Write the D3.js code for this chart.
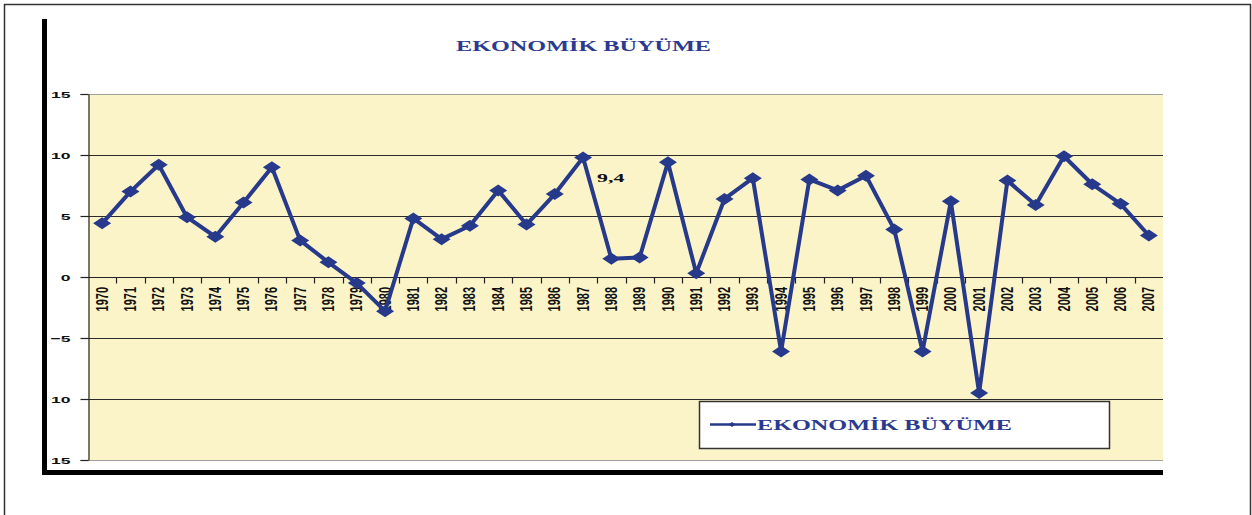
<html><head>
<meta charset="UTF-8">
<title>Ekonomik Büyüme</title>
<script src="https://cdn.jsdelivr.net/npm/d3@7"></script>
<style>
  body { margin: 0; background: #fff; }
  svg { display: block; }
  .ylab text { font: bold 9.5px "Liberation Sans", Arial, sans-serif; fill: #111; }
  .xlab { font: bold 11px "Liberation Sans Narrow", "Liberation Sans", Arial, sans-serif; fill: #111; }
  .serif { font-family: "Liberation Serif", "Times New Roman", serif; font-weight: bold; }
</style>
</head>
<body>
<div id="chart"></div>
<script>
// data (annual growth, %)
const years = ['1970','1971','1972','1973','1974','1975','1976','1977','1978','1979',
  '1980','1981','1982','1983','1984','1985','1986','1987','1988','1989',
  '1990','1991','1992','1993','1994','1995','1996','1997','1998','1999',
  '2000','2001','2002','2003','2004','2005','2006','2007'];
const growth = [4.4, 7.0, 9.2, 4.9, 3.3, 6.1, 9.0, 3.0, 1.2, -0.5,
  -2.8, 4.8, 3.1, 4.2, 7.1, 4.3, 6.8, 9.8, 1.5, 1.6,
  9.4, 0.3, 6.4, 8.1, -6.1, 8.0, 7.1, 8.3, 3.9, -6.1,
  6.2, -9.5, 7.9, 5.9, 9.9, 7.6, 6.0, 3.4];
const yTicks = [15, 10, 5, 0, -5, -10, -15];
const gridTicks = [10, 5, -5, -10];
const annoYear = '1987';
const annoText = '9,4';
const title = 'EKONOMİK BÜYÜME';
const seriesName = 'EKONOMİK BÜYÜME';

const W = 1252, H = 515;
const navy = '#26398b';
const plot = {left: 88, right: 1163, top: 94, bottom: 460};

const svg = d3.select('#chart').append('svg')
    .attr('width', W).attr('height', H);

// outer frame
svg.append('rect')
    .attr('x', 4.5).attr('y', 4.5).attr('width', 1246).attr('height', 530)
    .attr('fill', 'none').attr('stroke', '#333').attr('stroke-width', 1.5);

const x = d3.scaleBand().domain(years).range([plot.left, plot.right]);
const y = d3.scaleLinear().domain([-15, 15]).range([plot.bottom, plot.top]);
const cx = d => x(d) + x.bandwidth() / 2;

// plot background
svg.append('rect')
    .attr('x', plot.left).attr('y', plot.top)
    .attr('width', plot.right - plot.left).attr('height', plot.bottom - plot.top)
    .attr('fill', '#fbf4c8');

// top / bottom borders of plot area
svg.selectAll('.edge').data([15, -15]).enter().append('line')
    .attr('x1', 80).attr('x2', plot.right)
    .attr('y1', d => Math.round(y(d)) + 0.5).attr('y2', d => Math.round(y(d)) + 0.5)
    .attr('stroke', '#a0a0a0').attr('stroke-width', 1.2);

// grid lines
svg.selectAll('.grid').data(gridTicks).enter().append('line')
    .attr('x1', plot.left).attr('x2', plot.right)
    .attr('y1', d => Math.round(y(d)) + 0.5).attr('y2', d => Math.round(y(d)) + 0.5)
    .attr('stroke', '#2b2b2b').attr('stroke-width', 1.1);

// y axis; labels are stretched sideways like the source
const labShift = -18, labScale = 1.85;
const yAxis = svg.append('g')
    .attr('class', 'ylab')
    .attr('transform', `translate(${plot.left + 0.5},0)`)
    .call(d3.axisLeft(y).tickValues(yTicks).tickSize(8).tickSizeOuter(0).tickFormat(d3.format('d')));
yAxis.select('.domain').attr('stroke', '#222').attr('stroke-width', 1.2);
yAxis.selectAll('.tick line').attr('stroke', '#222').attr('stroke-width', 1.2);
yAxis.selectAll('.tick text')
    .attr('x', 0)
    .attr('transform', `translate(${labShift},0) scale(${labScale},1)`);

// the heavy bar covers the minus of -10 / -15: clip labels left of x = 50.5
const clipX = (50.5 - (plot.left + 0.5 + labShift)) / labScale;
svg.append('clipPath').attr('id', 'yclip')
  .append('rect').attr('x', clipX).attr('y', -20).attr('width', 40).attr('height', 40);
yAxis.selectAll('.tick text').attr('clip-path', 'url(#yclip)');

// zero line (category axis)
const y0 = Math.round(y(0)) + 0.5;
svg.append('line')
    .attr('x1', plot.left).attr('x2', plot.right)
    .attr('y1', y0).attr('y2', y0)
    .attr('stroke', '#222').attr('stroke-width', 1.2);

// category tick marks at band edges
svg.selectAll('.xtick').data(years.slice(1)).enter().append('line')
    .attr('x1', d => Math.round(x(d)) + 0.5).attr('x2', d => Math.round(x(d)) + 0.5)
    .attr('y1', y0).attr('y2', y0 + 6)
    .attr('stroke', '#222').attr('stroke-width', 1.2);

// year labels, rotated
svg.selectAll('.xlab').data(years).enter().append('text')
    .attr('class', 'xlab')
    .attr('transform', d => `translate(${cx(d)},287) scale(1.45,1) rotate(-90)`)
    .attr('text-anchor', 'end')
    .attr('dy', '0.35em')
    .text(d => d);

// series line
const pts = years.map((d, i) => [cx(d), y(growth[i])]);
svg.append('path')
    .datum(pts)
    .attr('d', d3.line())
    .attr('fill', 'none')
    .attr('stroke', navy)
    .attr('stroke-width', 4)
    .attr('stroke-linejoin', 'round');

// diamond markers
const diamond = (hw, hh) => `M0,${-hh}L${hw},0L0,${hh}L${-hw},0Z`;
svg.selectAll('.mk').data(pts).enter().append('path')
    .attr('transform', d => `translate(${d[0]},${d[1]})`)
    .attr('d', diamond(9, 6))
    .attr('fill', navy);

// data label
const ai = years.indexOf(annoYear);
svg.append('text')
    .attr('class', 'serif')
    .attr('transform', `translate(${cx(annoYear) + 14},${y(growth[ai]) + 25}) scale(1.9,1)`)
    .attr('font-size', 11.5)
    .attr('fill', '#111')
    .text(annoText);

// title
svg.append('text')
    .attr('class', 'serif')
    .attr('x', 456).attr('y', 51)
    .attr('font-size', 14)
    .attr('textLength', 255).attr('lengthAdjust', 'spacingAndGlyphs')
    .attr('fill', '#2b3a8e')
    .text(title);

// legend
const lg = svg.append('g');
lg.append('rect')
    .attr('x', 699.5).attr('y', 401.5).attr('width', 410).attr('height', 47)
    .attr('fill', '#fff').attr('stroke', '#333').attr('stroke-width', 1.5);
lg.append('line')
    .attr('x1', 710).attr('x2', 756).attr('y1', 424.5).attr('y2', 424.5)
    .attr('stroke', navy).attr('stroke-width', 2.5);
lg.append('path')
    .attr('transform', 'translate(732,424.5)')
    .attr('d', diamond(3.5, 2.5))
    .attr('fill', navy);
lg.append('text')
    .attr('class', 'serif')
    .attr('x', 757).attr('y', 429.5)
    .attr('font-size', 14.5)
    .attr('textLength', 255).attr('lengthAdjust', 'spacingAndGlyphs')
    .attr('fill', '#2b3a8e')
    .text(seriesName);

// heavy black bars at left and bottom
svg.append('rect').attr('x', 42).attr('y', 19).attr('width', 5).attr('height', 456).attr('fill', '#000');
svg.append('rect').attr('x', 42).attr('y', 470).attr('width', plot.right - 42).attr('height', 5).attr('fill', '#000');
</script>
</body></html>
